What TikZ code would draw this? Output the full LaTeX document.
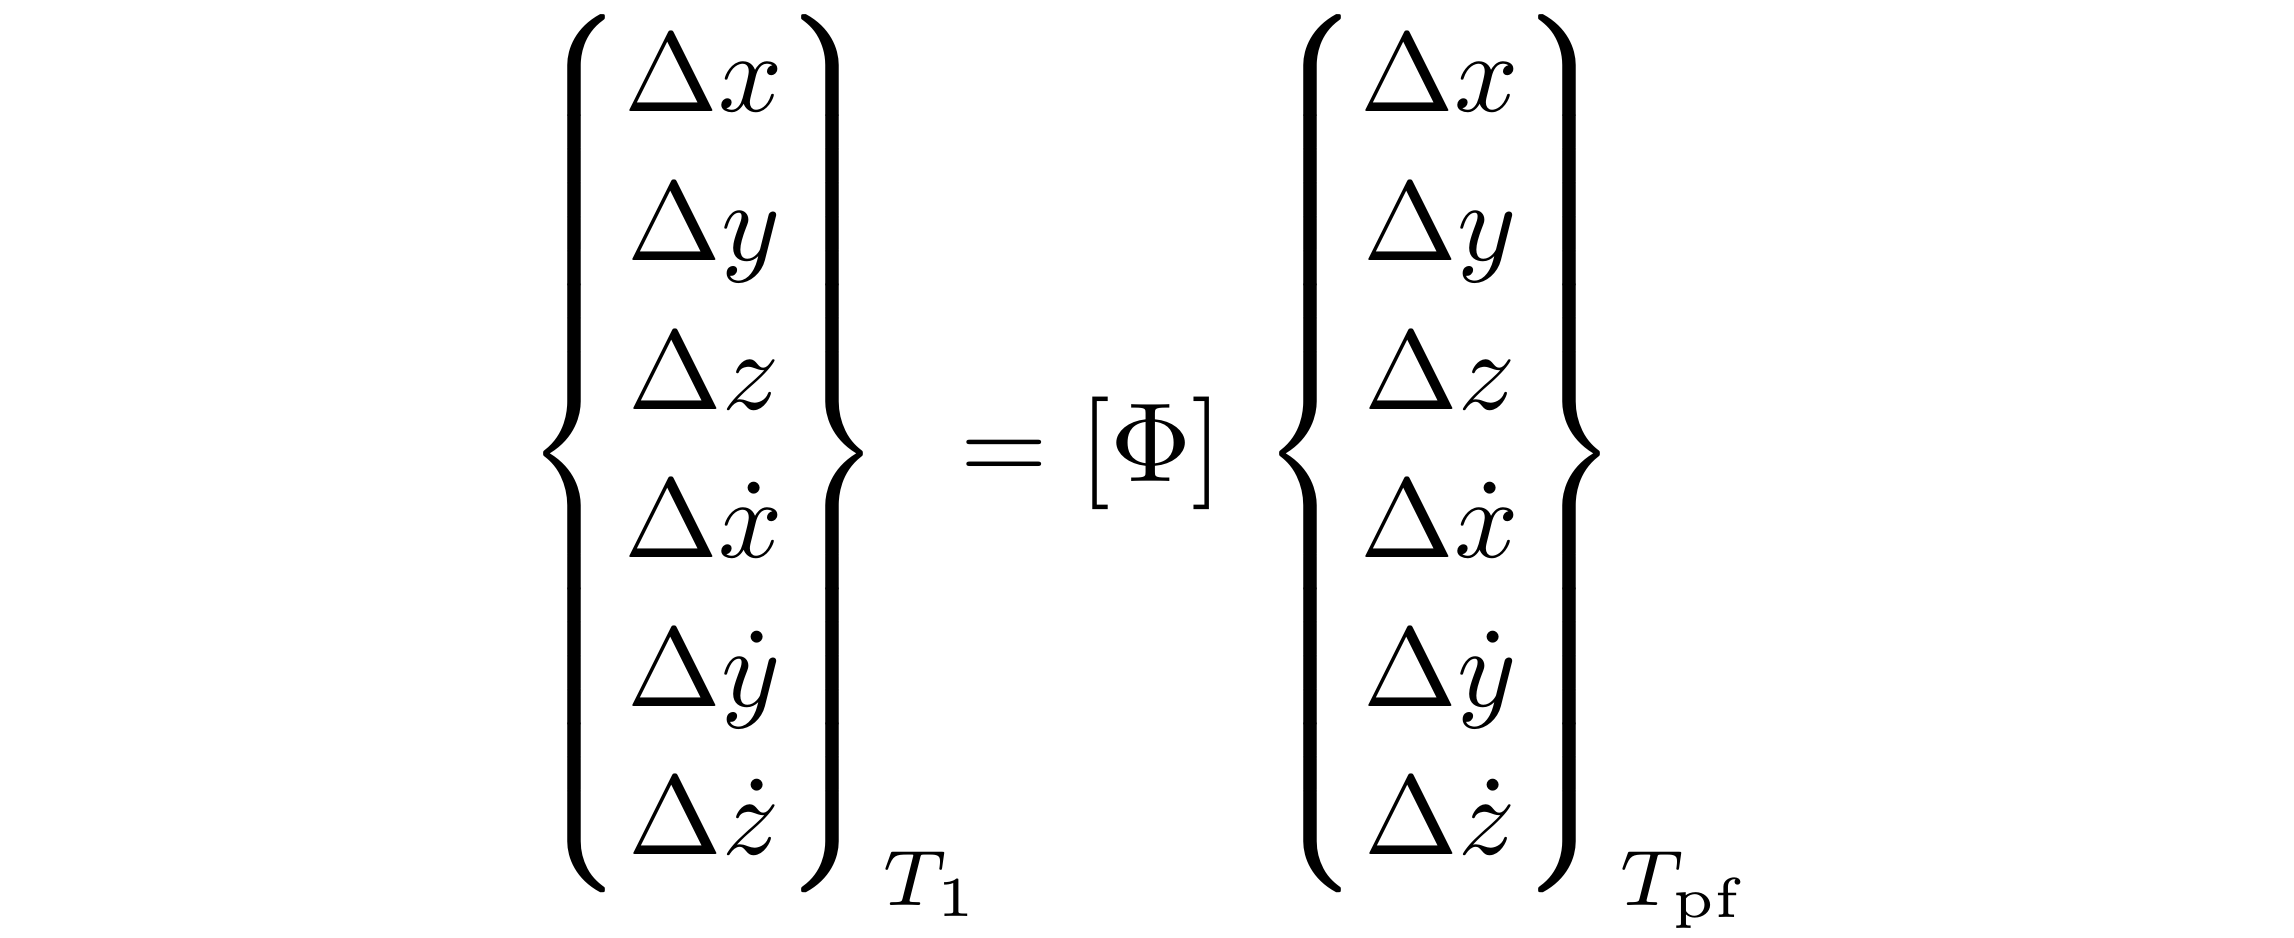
\documentclass[tikz,border=0pt]{standalone}
\usepackage{amsmath}
\begin{document}
\begin{tikzpicture}
\useasboundingbox (0,0) rectangle (22.94,9.38);
\node[inner sep=0pt,anchor=center] (eq) at (11.40,4.70) {\resizebox*{!}{9.2cm}{$\renewcommand{\arraystretch}{1.1}
\left\{\begin{matrix}\Delta x\\ \Delta y\\ \Delta z\\ \Delta\dot x\\ \Delta\dot y\\ \Delta\dot z\end{matrix}\right\}_{T_1} \!\!\!= [\Phi]\,
\left\{\begin{matrix}\Delta x\\ \Delta y\\ \Delta z\\ \Delta\dot x\\ \Delta\dot y\\ \Delta\dot z\end{matrix}\right\}_{T_{\mathrm{pf}}}$}};
\end{tikzpicture}
\end{document}
